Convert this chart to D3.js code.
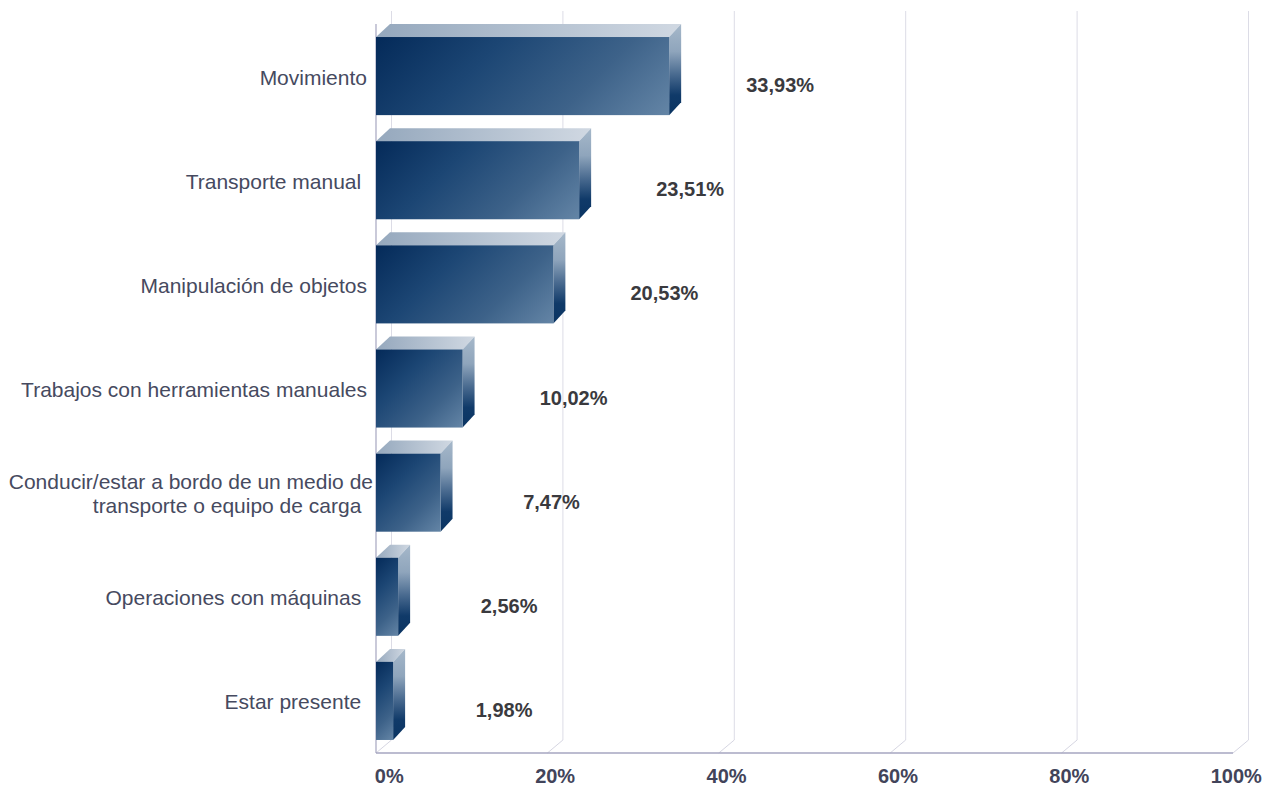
<!DOCTYPE html>
<html>
<head>
<meta charset="utf-8">
<script src="https://cdn.jsdelivr.net/npm/d3@7"></script>
<style>
  html, body { margin: 0; padding: 0; background: #ffffff; }
  svg { display: block; }
  text { font-family: "Liberation Sans", Arial, sans-serif; }
</style>
</head>
<body>
<svg id="chart" width="1278" height="787"></svg>
<script>
// ---- data ----
const categories = [
  ["Movimiento"],
  ["Transporte manual "],
  ["Manipulación de objetos"],
  ["Trabajos con herramientas manuales"],
  ["Conducir/estar a bordo de un medio de", "transporte o equipo de carga  "],
  ["Operaciones con máquinas "],
  ["Estar presente "]
];
const values = [33.93, 23.51, 20.53, 10.02, 7.47, 2.56, 1.98];
const valueLabels = ["33,93%", "23,51%", "20,53%", "10,02%", "7,47%", "2,56%", "1,98%"];
const tickValues = [0, 20, 40, 60, 80, 100];
const tickLabels = ["0%", "20%", "40%", "60%", "80%", "100%"];

// ---- layout ----
const svg = d3.select("#chart");
const frontTop = 24, frontBottom = 753;
const wallDx = 15.5, wallDy = 13;
const barDx = 12, barDy = 13;

const xAxis = d3.scaleLinear().domain([0, 100]).range([376, 1233]);
const xBar = d3.scaleLinear().domain([0, 100]).range([376, 1240]);
const y = d3.scaleBand()
  .domain(d3.range(categories.length))
  .range([frontTop, frontBottom])
  .paddingInner(0.25)
  .paddingOuter(0.125);

// ---- gradients ----
const defs = svg.append("defs");
const frontStops = [[0, "#042a59"], [0.35, "#1c4674"], [0.7, "#3d6289"], [1, "#6485a6"]];
const gTop = defs.append("linearGradient").attr("id", "gTop")
  .attr("x1", 0).attr("y1", 0).attr("x2", 1).attr("y2", 0);
[[0, "#95a8bd"], [1, "#d0d8e2"]]
  .forEach(([o, c]) => gTop.append("stop").attr("offset", o).attr("stop-color", c));
const gSide = defs.append("linearGradient").attr("id", "gSide")
  .attr("x1", 0).attr("y1", 0).attr("x2", 0).attr("y2", 1);
[[0, "#a6b8ca"], [0.3, "#8fa5bc"], [0.55, "#4a6b90"], [0.78, "#103a69"], [1, "#0a3462"]]
  .forEach(([o, c]) => gSide.append("stop").attr("offset", o).attr("stop-color", c));

// ---- gridlines (back wall + floor diagonals) ----
const grid = svg.append("g");
tickValues.forEach(v => {
  const xf = xAxis(v), xb = xf + wallDx;
  grid.append("line")
    .attr("x1", xb).attr("x2", xb)
    .attr("y1", frontTop - wallDy).attr("y2", frontBottom - wallDy)
    .attr("stroke", "#dcdce6").attr("stroke-width", 1);
  grid.append("line")
    .attr("x1", xb).attr("y1", frontBottom - wallDy)
    .attr("x2", xf).attr("y2", frontBottom)
    .attr("stroke", "#d6d6e2").attr("stroke-width", 1);
});

// ---- axes lines ----
svg.append("line")
  .attr("x1", xAxis(0)).attr("x2", xAxis(0))
  .attr("y1", frontTop).attr("y2", frontBottom)
  .attr("stroke", "#a6a6c0").attr("stroke-width", 1.2);
svg.append("line")
  .attr("x1", xAxis(0)).attr("x2", xAxis(100))
  .attr("y1", frontBottom).attr("y2", frontBottom)
  .attr("stroke", "#a6a6c0").attr("stroke-width", 1.5);

// ---- bars (drawn bottom to top so upper bars overlap correctly) ----
const bars = svg.append("g");
const order = d3.range(values.length).reverse();
order.forEach(i => {
  const x0 = xBar(0), x1 = xBar(values[i]);
  const y0 = y(i), y1 = y(i) + y.bandwidth();
  const w = x1 - x0, h = y1 - y0;
  // per-bar 45deg gradient in user space
  const gid = "gFront" + i;
  const gf = defs.append("linearGradient").attr("id", gid)
    .attr("gradientUnits", "userSpaceOnUse")
    .attr("x1", x0).attr("y1", y0)
    .attr("x2", x0 + (w + h) / 2).attr("y2", y0 + (w + h) / 2);
  frontStops.forEach(([o, c]) => gf.append("stop").attr("offset", o).attr("stop-color", c));

  const g = bars.append("g");
  // top face
  g.append("path")
    .attr("d", `M${x0},${y0} L${x0 + barDx + 2},${y0 - barDy} L${x1 + barDx},${y0 - barDy} L${x1},${y0} Z`)
    .attr("fill", "url(#gTop)");
  // side face
  g.append("path")
    .attr("d", `M${x1},${y0} L${x1 + barDx},${y0 - barDy} L${x1 + barDx},${y1 - barDy} L${x1},${y1} Z`)
    .attr("fill", "url(#gSide)");
  // front face
  g.append("rect")
    .attr("x", x0).attr("y", y0)
    .attr("width", w).attr("height", h)
    .attr("fill", `url(#${gid})`);
});

// ---- value labels ----
svg.append("g").selectAll("text")
  .data(values)
  .join("text")
  .attr("x", (d) => xBar(d) + 111)
  .attr("y", (d, i) => y(i) + y.bandwidth() / 2 + 16)
  .attr("text-anchor", "middle")
  .attr("font-size", 20)
  .attr("font-weight", "bold")
  .attr("fill", "#3a3a3e")
  .text((d, i) => valueLabels[i]);

// ---- category labels ----
const catG = svg.append("g");
categories.forEach((lines, i) => {
  const cy = y(i) + y.bandwidth() / 2;
  const n = lines.length;
  const anchorX = n > 1 ? xAxis(0) - 3 : xAxis(0) - 9;
  const t = catG.append("text")
    .attr("text-anchor", "end")
    .attr("font-size", 21)
    .attr("fill", "#464a60")
    .style("white-space", "pre");
  lines.forEach((ln, k) => {
    t.append("tspan")
      .attr("x", anchorX)
      .attr("y", cy + 8.5 + (k - (n - 1) / 2) * 24)
      .text(ln);
  });
});

// ---- tick labels ----
svg.append("g").selectAll("text")
  .data(tickValues)
  .join("text")
  .attr("x", (d) => xAxis(d) + wallDx / 2 + (d === 0 ? 5.5 : d === 100 ? -4.5 : 0))
  .attr("y", 783)
  .attr("text-anchor", "middle")
  .attr("font-size", 20)
  .attr("font-weight", "bold")
  .attr("fill", "#42445a")
  .text((d, i) => tickLabels[i]);
</script>
</body>
</html>
